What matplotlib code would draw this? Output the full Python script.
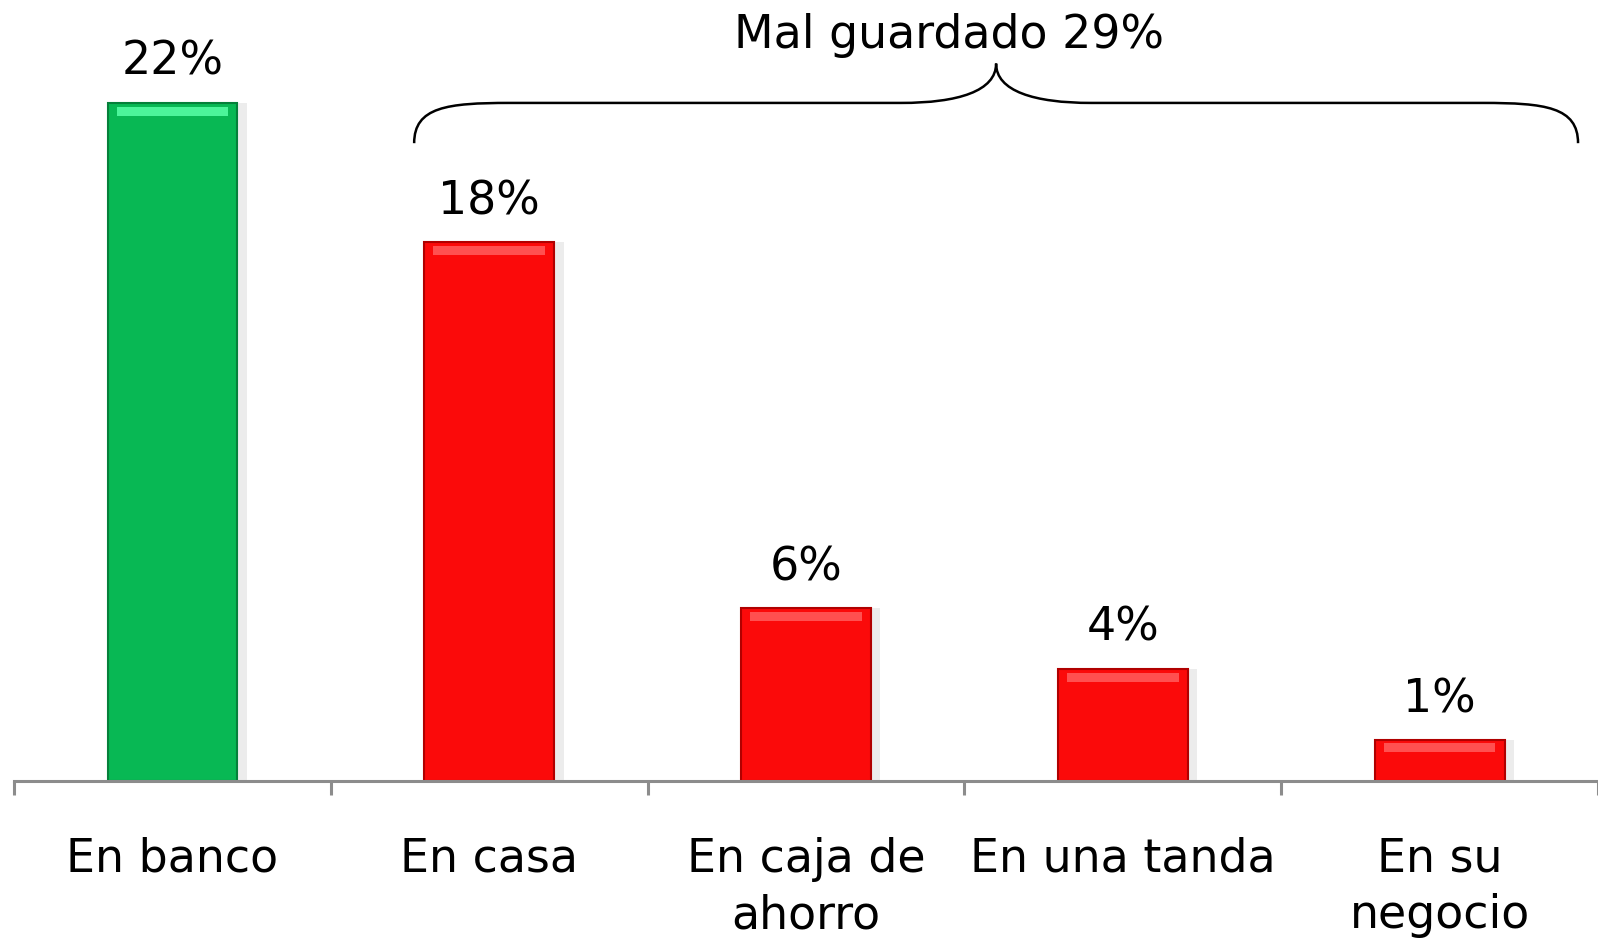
import matplotlib
matplotlib.use("Agg")
from matplotlib import pyplot as plt
from matplotlib.path import Path
from matplotlib import patches
import numpy as np

categories = ["En banco", "En casa", "En caja de\nahorro", "En una tanda", "En su\nnegocio"]
values = [22.4, 17.8, 5.7, 3.7, 1.35]
labels = ["22%", "18%", "6%", "4%", "1%"]
colors = ["#08b854", "#fb0a0a", "#fb0a0a", "#fb0a0a", "#fb0a0a"]
edge_colors = ["#05803a", "#b00000", "#b00000", "#b00000", "#b00000"]
highlight = ["#4cf59a", "#ff5050", "#ff5050", "#ff5050", "#ff5050"]
group_label = "Mal guardado 29%"

plt.rcParams['font.family'] = ['DejaVu Sans']

fig = plt.figure(figsize=(15.98, 9.41), dpi=100)
ax = fig.add_axes([0.0088, 0.17, 0.9912, 0.83])

x = np.arange(len(categories))
bar_w = 0.41

# soft shadow
ax.bar(x + 0.03, values, width=bar_w, color="#ececec", zorder=1)
ax.bar(x, values, width=bar_w, color=colors, edgecolor=edge_colors, linewidth=1.5, zorder=2)
# bevel highlight strip at top of each bar
for i, v in enumerate(values):
    h = min(0.3, v * 0.2)
    ax.bar(x[i], h, bottom=v - h * 1.4, width=bar_w * 0.86, color=highlight[i], zorder=3, linewidth=0)
    ax.annotate(labels[i], (x[i], v), xytext=(0, 13), textcoords="offset points",
                ha="center", va="bottom", fontsize=33, color="black")

ax.set_xlim(-0.5, len(categories) - 0.5)
ax.set_ylim(0, 25.8)

for s in ["top", "right", "left"]:
    ax.spines[s].set_visible(False)
ax.spines["bottom"].set_color("#8c8c8c")
ax.spines["bottom"].set_linewidth(2.2)
ax.set_yticks([])

ax.set_xticks(np.arange(len(categories) + 1) - 0.5)
ax.set_xticklabels([])
ax.tick_params(axis="x", which="major", direction="out", length=10, width=2.2, color="#8c8c8c")
ax.set_xticks(x, minor=True)
ax.set_xticklabels(categories, minor=True, fontsize=33, linespacing=1.33)
ax.tick_params(axis="x", which="minor", length=0, pad=40)

# curly brace over the "mal guardado" group
x0 = 1 - 0.237
x1 = 4 + 0.437
xt = 2.60
y0, ym, yt = 21.07, 22.4, 23.7
a = 0.30
verts = [
    (x0, y0), (x0, y0 + 0.9 * (ym - y0)), (x0 + 0.35 * a, ym), (x0 + a, ym),
    (xt - a, ym),
    (xt - 0.4 * a, ym), (xt, ym + 0.3 * (yt - ym)), (xt, yt),
    (xt, ym + 0.3 * (yt - ym)), (xt + 0.4 * a, ym), (xt + a, ym),
    (x1 - a, ym),
    (x1 - 0.35 * a, ym), (x1, y0 + 0.9 * (ym - y0)), (x1, y0),
]
codes = [Path.MOVETO, Path.CURVE4, Path.CURVE4, Path.CURVE4,
         Path.LINETO,
         Path.CURVE4, Path.CURVE4, Path.CURVE4,
         Path.CURVE4, Path.CURVE4, Path.CURVE4,
         Path.LINETO,
         Path.CURVE4, Path.CURVE4, Path.CURVE4]
ax.add_patch(patches.PathPatch(Path(verts, codes), facecolor="none", edgecolor="black",
                               linewidth=1.8, clip_on=False, zorder=4))
ax.text(2.45, 24.62, group_label, ha="center", va="center", fontsize=33, color="black")

fig.savefig("out.png", dpi=100, facecolor="white")
